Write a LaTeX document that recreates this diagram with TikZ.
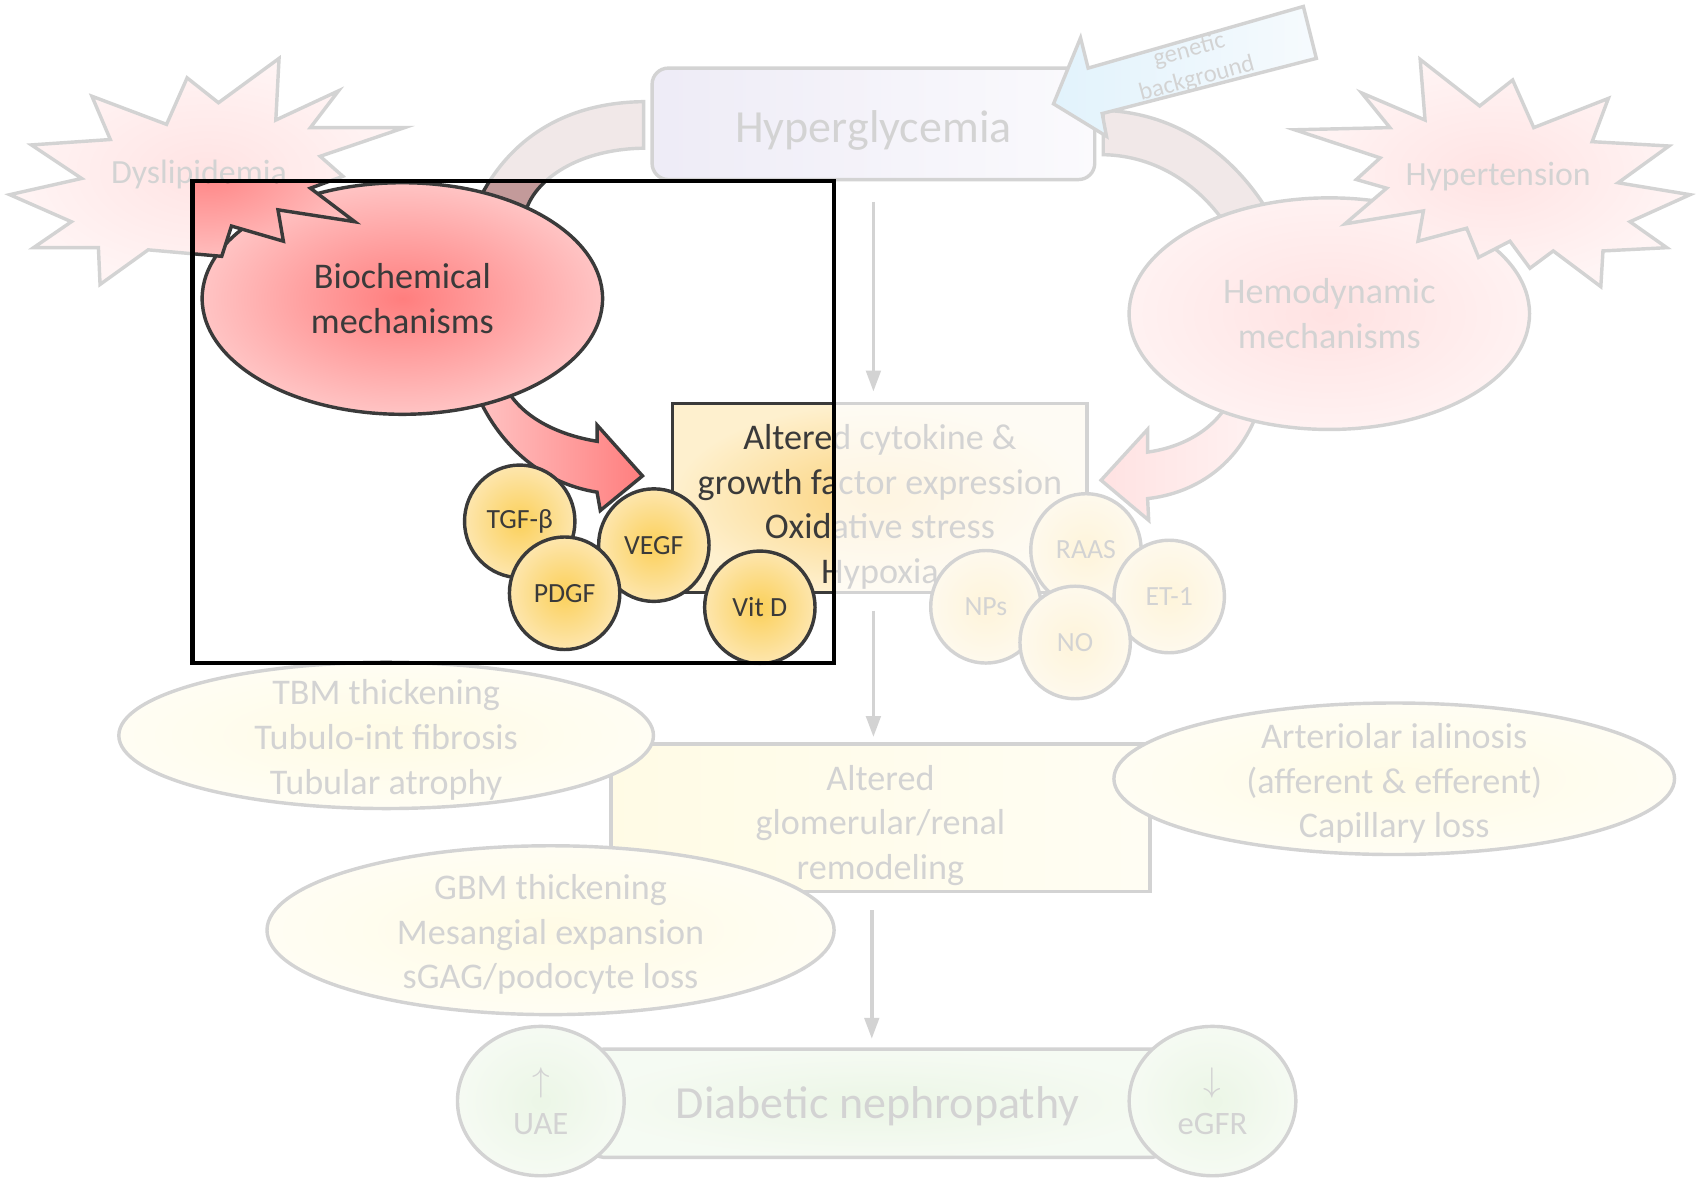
\documentclass[tikz,border=0pt]{standalone}
\usepackage{fontspec}
\setmainfont{Carlito}
\usetikzlibrary{arrows.meta,positioning,shapes.geometric}
\definecolor{DNInk}{HTML}{3A3A3A}
\definecolor{DNRed}{HTML}{FF7E7E}
\definecolor{DNPink}{HTML}{FFC4C4}
\definecolor{DNStarRed}{HTML}{FF8484}
\definecolor{DNStarPale}{HTML}{FFD0D0}
\definecolor{DNRose}{HTML}{C39A9A}
\definecolor{DNLavender}{HTML}{B3A9DA}
\definecolor{DNLavenderPale}{HTML}{EEEBF8}
\definecolor{DNSky}{HTML}{7CC8F2}
\definecolor{DNSkyPale}{HTML}{D8EDFB}
\definecolor{DNGold}{HTML}{FBD05A}
\definecolor{DNGoldPale}{HTML}{FDE6AE}
\definecolor{DNAmber}{HTML}{FBD27A}
\definecolor{DNAmberPale}{HTML}{FEF0CE}
\definecolor{DNLemon}{HTML}{FFF08C}
\definecolor{DNLemonPale}{HTML}{FFF9CC}
\definecolor{DNLeaf}{HTML}{A8D890}
\definecolor{DNLeafPale}{HTML}{D6EDCA}
\newcommand{\dnbody}{\fontsize{9.5}{11.75}\selectfont}
\newcommand{\dntitle}{\fontsize{12.1}{14.5}\selectfont}
\newcommand{\dnsmall}{\fontsize{7.3}{9}\selectfont}
\newcommand{\dnstarfont}{\fontsize{8.9}{10.7}\selectfont}
\newcommand{\dnmid}{\fontsize{8.6}{11.4}\selectfont}
\newcommand{\dntiny}{\fontsize{6.5}{7.8}\selectfont}
\tikzset{
  dnbox/.style={
    draw=DNInk,
    line width=0.9pt,
    text=DNInk,
    align=center,
    inner sep=0pt,
    font=\dnbody
  },
  dnoval/.style={
    dnbox,
    ellipse
  },
  dnmech/.style={
    dnoval,
    inner color=DNRed,
    outer color=DNPink,
    minimum width=3.70cm,
    minimum height=2.14cm
  },
  dnball/.style={
    dnoval,
    inner color=DNGold,
    outer color=DNGoldPale,
    minimum width=1.02cm,
    minimum height=1.04cm,
    font=\dnsmall
  },
  dnlesion/.style={
    dnoval,
    inner color=DNLemon,
    outer color=DNLemonPale
  },
  dnstar/.style={
    draw=DNInk,
    line width=0.9pt,
    line join=miter,
    inner color=DNStarRed,
    outer color=DNStarPale
  },
  dnband/.style={draw=DNInk,line width=0.9pt,fill=DNRose},
  dnflow/.style={-{Triangle[length=5.5pt,width=3.8pt]},draw=DNInk,line width=0.9pt},
  dnframe/.style={draw=black,line width=1.1pt}
}

\begin{document}
\begin{tikzpicture}[
  x=0.01cm, y=-0.01cm,
  dntext/.style={text=DNInk,align=center,font=\dnbody},
  dnhead/.style={draw=DNInk,line width=0.9pt,line join=miter}
]
  \useasboundingbox (0,0) rectangle (1568,1092);
  \fill[white] (0,0) rectangle (1568,1092);
  \coordinate (focusNW) at (178,167);
  \coordinate (focusSE) at (771,613);

  % bands from hyperglycemia down to the two mechanisms
  \path[dnband] (595,94) .. controls (515,95) and (462,135) .. (436,200)
    -- (485,200) .. controls (490,170) and (530,138) .. (595,137) -- cycle;
  \path[dnband] (1020,102) .. controls (1085,104) and (1140,140) .. (1175,200)
    -- (1135,210) .. controls (1110,172) and (1070,144) .. (1020,143) -- cycle;

  \node[dnbox,rounded corners=0.15cm,minimum width=4.09cm,minimum height=1.03cm,
    left color=DNLavender,right color=DNLavenderPale] (hyper) at (807.5,114.5) {};
  \node[dntext,font=\dntitle] (hypertext) at ([yshift=-0.06cm]hyper) {Hyperglycemia};

  % genetic background
  \path[dnhead,left color=DNSky,right color=DNSkyPale]
    (974,96) -- (999,35) -- (1006,63) -- (1205,6) -- (1217,54)
    -- (1019,105) -- (1023,126) -- cycle;
  \node[dntext,font=\dntiny,rotate=15] (genetic) at (1103,60) {genetic\\background};

  \draw[dnflow,shorten <=0.19cm,shorten >=0.11cm] (hyper.south) -- (hyper.south |- 0,373);

  \node[dnbox,minimum width=3.83cm,minimum height=1.75cm,
    inner color=DNAmber,outer color=DNAmberPale] (cyto) at (813.5,460.5) {};
  \node[dntext] (cytotext) at ([yshift=-0.08cm]cyto)
    {Altered cytokine \&\\growth factor expression\\Oxidative stress\\Hypoxia};

  % block arrows into the cytokine box
  \path[dnhead,left color=DNPink,right color=DNRed]
    (466,355) .. controls (480,385) and (515,402) .. (552,408)
    -- (552,393) -- (594,440) -- (555,472) -- (552,455)
    .. controls (500,447) and (460,410) .. (440,362) -- cycle;
  \path[dnhead,left color=DNRed,right color=DNPink]
    (1136,372) .. controls (1120,400) and (1090,414) .. (1061,418)
    -- (1061,397) -- (1018,444) -- (1062,481) -- (1061,461)
    .. controls (1105,456) and (1145,430) .. (1163,380) -- cycle;

  \node[dnmech] (biochem) at (372,276) {Biochemical\\mechanisms};
  \node[dnmech] (hemo) at (1229,290) {Hemodynamic\\mechanisms};

  \path[dnstar] (262,223) -- (214,209) -- (205,237) -- (137,231) -- (92.5,263)
    -- (91,229) -- (31,229) -- (66,205) -- (9,180) -- (75.5,165) -- (29,134)
    -- (102,129) -- (85,89) -- (154,115) -- (173,72) -- (202,95) -- (258,54)
    -- (255,111) -- (313,84) -- (287,118) -- (374,118) -- (296,144.5)
    -- (317,163) -- (287,174) -- (328,205) -- (257,194) -- cycle;
  \node[dntext,font=\dnstarfont] (dyslip) at (184,161) {Dyslipidemia};
  \path[dnstar] (1313,55) -- (1368,98) -- (1398.5,74) -- (1418,118) -- (1487,91)
    -- (1472,131) -- (1543,135) -- (1496,169) -- (1562.5,180) -- (1507,205)
    -- (1541,229) -- (1482,232) -- (1480,265) -- (1436,232) -- (1414.5,248)
    -- (1396,223) -- (1367,238) -- (1356,211) -- (1311,223) -- (1316,195)
    -- (1243.5,207) -- (1282,174) -- (1254,166) -- (1276,146) -- (1197,120)
    -- (1285,118) -- (1259,86) -- (1317.5,111) -- cycle;
  \node[dntext,font=\dnstarfont] (hypert) at (1385,163) {Hypertension};

  \node[dnball] (tgf) at (480.5,482) {TGF-β};
  \node[dnball] (vegf) at (604.5,504) {VEGF};
  \node[dnball] (pdgf) at (522,548.5) {PDGF};
  \node[dnball] (vitd) at (702.5,561.5) {Vit D};
  \node[dnball] (nps) at (911.5,561) {NPs};
  \node[dnball] (raas) at (1004,508.5) {RAAS};
  \node[dnball] (et1) at (1081,551.5) {ET-1};
  \node[dnball] (no) at (994,594) {NO};

  \node[dnbox,minimum width=4.98cm,minimum height=1.36cm,
    left color=DNLemon,right color=DNLemonPale] (remodel) at (814,756) {};
  \node[dntext] (remodeltext) at ([yshift=-0.07cm]remodel) {Altered\\glomerular/renal\\remodeling};
  \draw[dnflow,shorten <=0.15cm,shorten >=0.05cm] (hyper.south |- cyto.south) -- (hyper.south |- remodel.north);

  \node[dnlesion,minimum width=4.94cm,minimum height=1.35cm] (tbm) at (357,680) {};
  \node[dntext] (tbmtext) at ([yshift=-0.04cm]tbm) {TBM thickening\\Tubulo-int fibrosis\\Tubular atrophy};
  \node[dnlesion,minimum width=5.18cm,minimum height=1.40cm] (arterio) at (1289,720) {};
  \node[dntext] (arteriotext) at ([yshift=-0.045cm]arterio) {Arteriolar ialinosis\\(afferent \& efferent)\\Capillary loss};
  \node[dnlesion,minimum width=5.24cm,minimum height=1.56cm] (gbm) at (509,860) {};
  \node[dntext] (gbmtext) at ([yshift=-0.04cm]gbm) {GBM thickening\\Mesangial expansion\\sGAG/podocyte loss};

  \node[dnbox,rounded corners=0.1cm,minimum width=5.27cm,minimum height=1.0cm,
    inner color=DNLeaf,outer color=DNLeafPale] (dn) at (811.5,1020) {};
  \node[dntext,font=\dntitle] (dntext) at ([yshift=-0.03cm]dn) {Diabetic nephropathy};
  \draw[dnflow,shorten <=0.16cm,shorten >=0.08cm] ([xshift=-0.055cm]dn.north |- remodel.south) -- ([xshift=-0.055cm]dn.north);
  \node[dnoval,minimum width=1.54cm,minimum height=1.38cm,
    inner color=DNLeaf,outer color=DNLeafPale,font=\dnmid] (uae) at (500,1018) {$\uparrow$\\UAE};
  \node[dnoval,minimum width=1.54cm,minimum height=1.38cm,
    inner color=DNLeaf,outer color=DNLeafPale,font=\dnmid] (egfr) at (1121,1018) {$\downarrow$\\eGFR};

  % fade everything outside the highlighted window
  \fill[white,opacity=0.78,even odd rule] (0,0) rectangle (1568,1092) (focusNW) rectangle (focusSE);
  \draw[dnframe] (focusNW) rectangle (focusSE);
\end{tikzpicture}
\end{document}
